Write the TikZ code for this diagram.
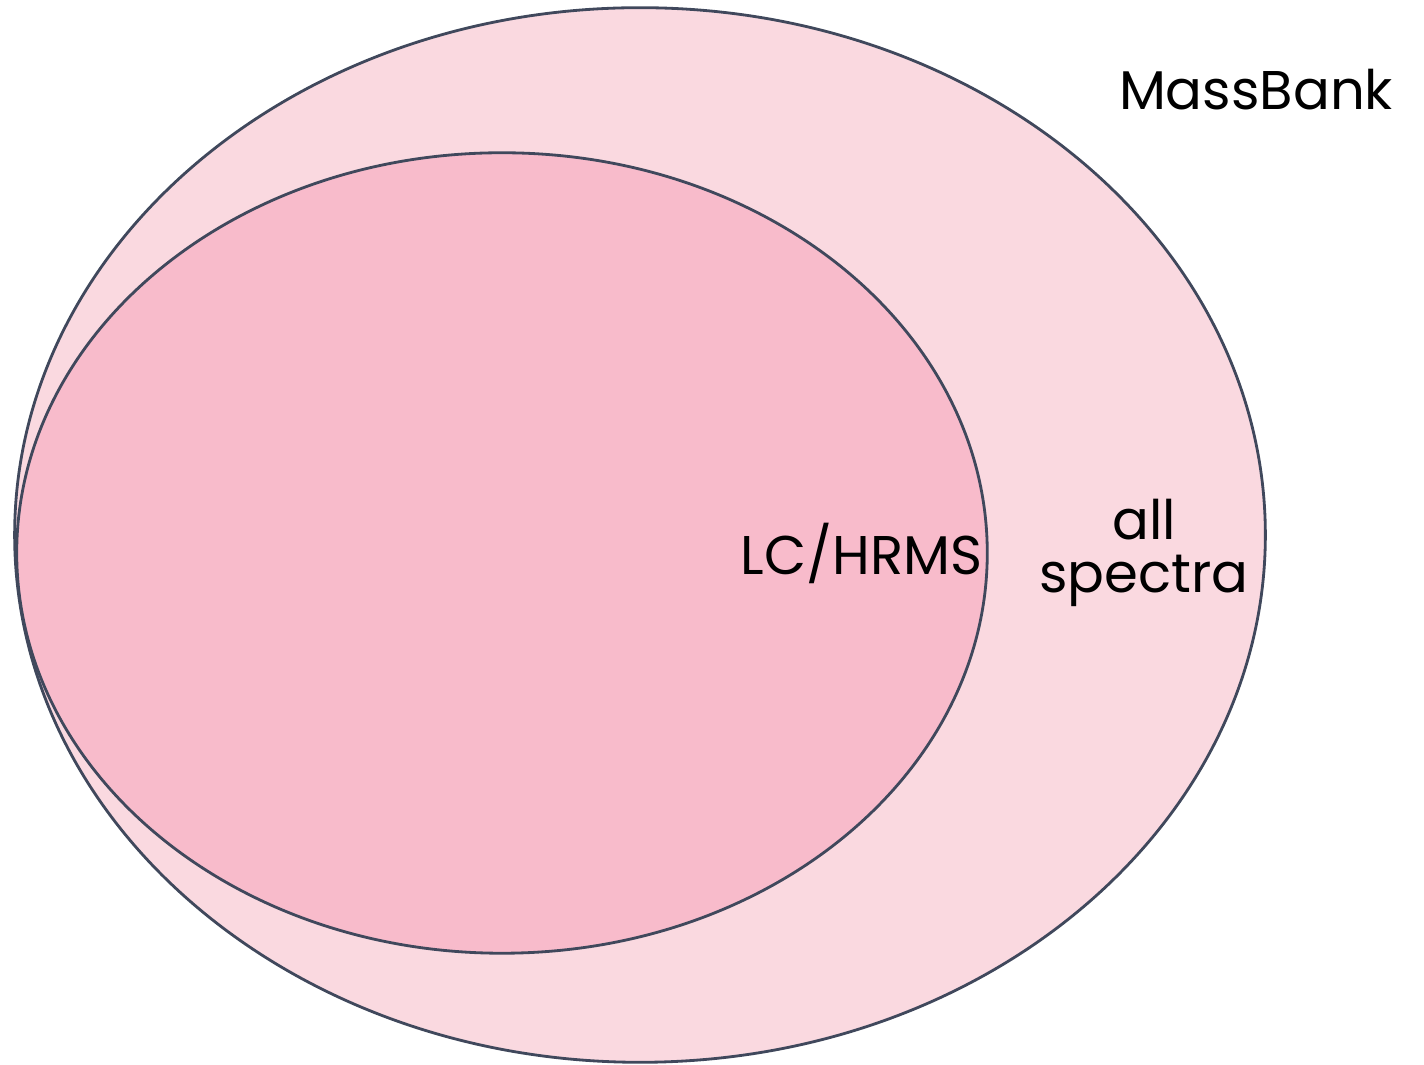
\documentclass[tikz,border=0pt]{standalone}
\usepackage{fontspec}
\setmainfont{Poppins}
\usetikzlibrary{shapes.geometric,positioning}
\definecolor{SetLine}{RGB}{64,72,92}
\definecolor{OuterPink}{RGB}{250,217,224}
\definecolor{InnerPink}{RGB}{248,187,203}

\begin{document}
\begin{tikzpicture}[
    x=0.01cm, y=-0.01cm,
    set/.style={
      ellipse,
      draw=SetLine,
      line width=0.8pt,
      inner sep=0pt
    },
    tag/.style={
      font=\fontsize{15.5}{19}\selectfont,
      text=black,
      align=center,
      inner sep=0pt
    }
  ]
    \useasboundingbox (0,0) rectangle (1424,1065);

    % the two sets, the smaller one touching the left edge
    \node[set, fill=OuterPink, minimum width=12.5cm, minimum height=10.54cm]
      (allset) at (640,535) {};
    \node[set, fill=InnerPink, minimum width=9.7cm, minimum height=8cm]
      (lcset) at (502,553) {};

    \node[tag] (title) at (1256,90) {MassBank};
    \node[tag, anchor=east] (lclabel) at (983,553) {LC/HRMS};
    \node[tag] (alllabel) at (1144,553) {all\\[-4pt]spectra};

  \end{tikzpicture}
\end{document}
